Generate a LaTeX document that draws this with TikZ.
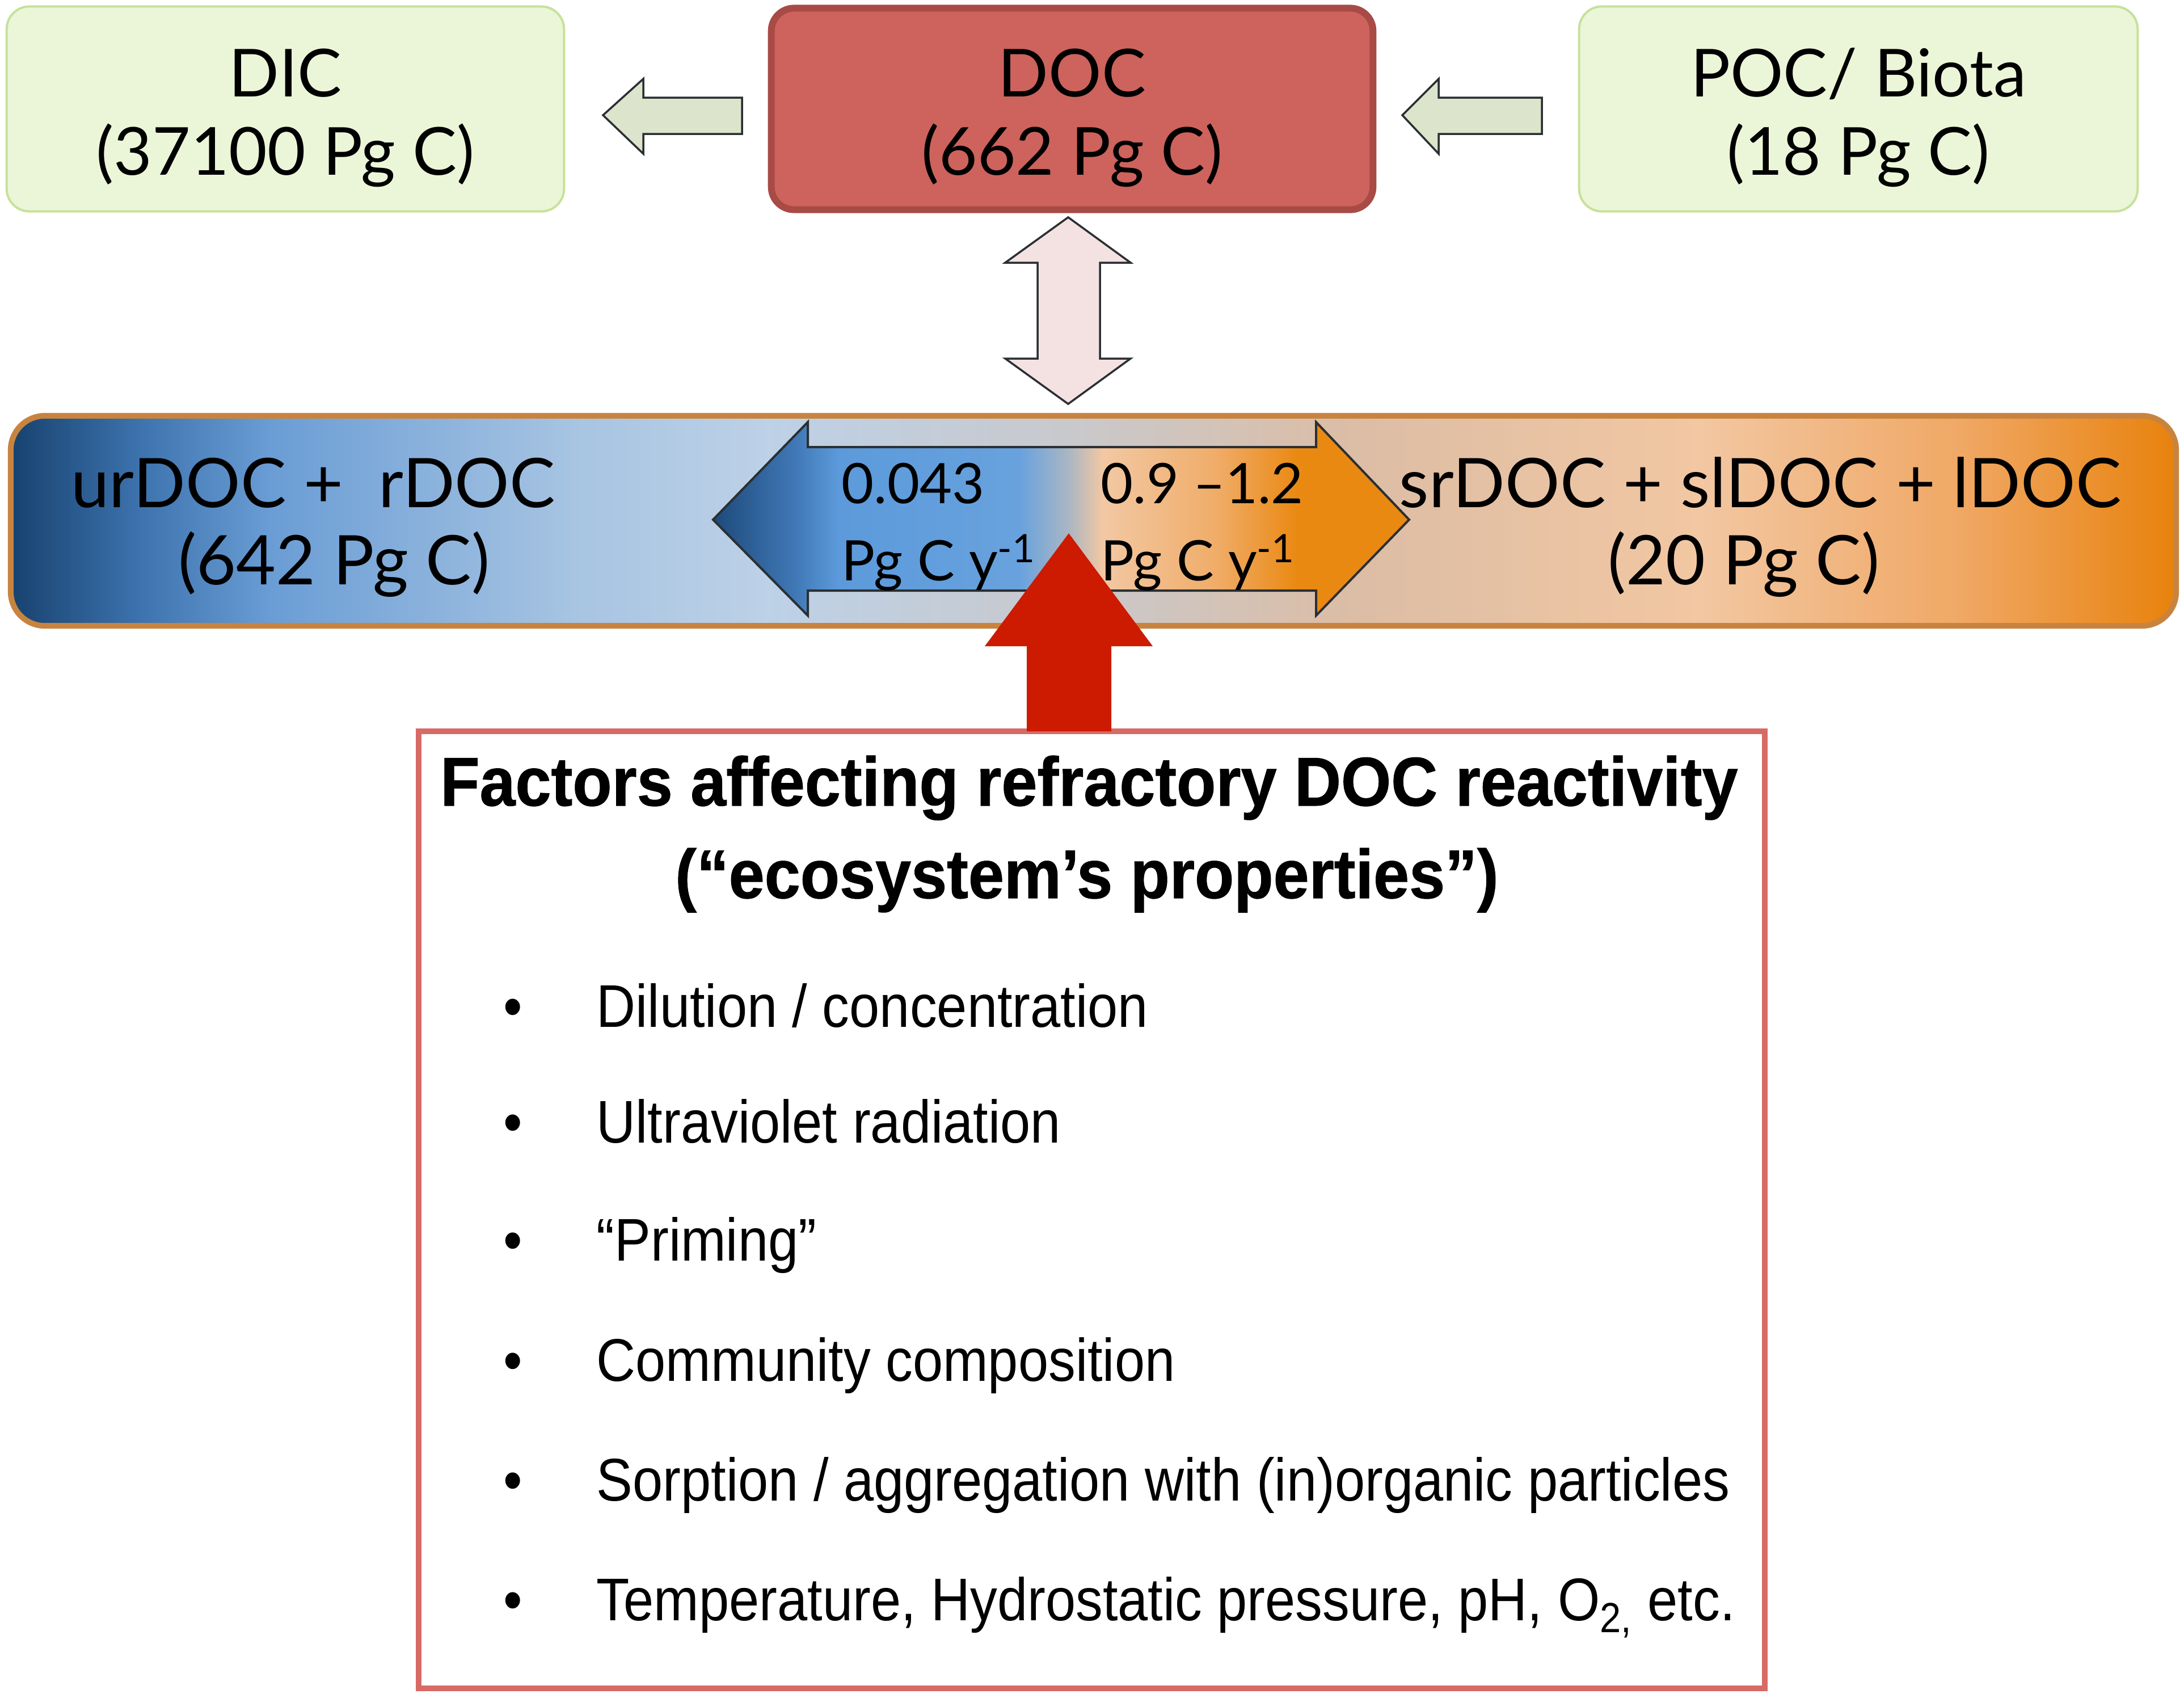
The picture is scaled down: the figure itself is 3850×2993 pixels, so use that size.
\documentclass[tikz,border=0pt]{standalone}
\usepackage{fontspec}
\setmainfont{Lato}
\newfontfamily\boldcond[FakeStretch=0.932,FakeBold=0.8]{Liberation Sans Bold}
\newfontfamily\regcond[FakeStretch=0.9]{Liberation Sans}
\usetikzlibrary{calc}
\definecolor{gfill}{HTML}{EBF6D8}
\definecolor{gline}{HTML}{C6E29A}
\definecolor{docfill}{HTML}{CD635C}
\definecolor{docline}{HTML}{A84A45}
\definecolor{arrline}{HTML}{2B2F33}
\definecolor{smallarr}{HTML}{DCE5CC}
\definecolor{vertarr}{HTML}{F4E2E2}
\definecolor{bandline}{HTML}{C8843F}
\definecolor{redarr}{HTML}{CC1B00}
\definecolor{factline}{HTML}{D86A66}
% band colours
\definecolor{b0}{HTML}{17426F}
\definecolor{b1}{HTML}{3D73AE}
\definecolor{b2}{HTML}{6A9DD5}
\definecolor{b3}{HTML}{A7C4E2}
\definecolor{b4}{HTML}{BDD1E7}
\definecolor{b5}{HTML}{C9C9CC}
\definecolor{b6}{HTML}{DCBDA5}
\definecolor{b7}{HTML}{F2C7A2}
\definecolor{b8}{HTML}{F0A865}
\definecolor{b9}{HTML}{E8820C}
% arrow colours
\definecolor{a0}{HTML}{1D4A7A}
\definecolor{a1}{HTML}{3F77B5}
\definecolor{a2}{HTML}{5C9ADB}
\definecolor{a3}{HTML}{68A2DE}
\definecolor{a4}{HTML}{A9B6C4}
\definecolor{a5}{HTML}{F2C8A3}
\definecolor{a6}{HTML}{F0AD6A}
\definecolor{a7}{HTML}{EA8912}
% band spans x 20..3835 -> 25bp..75bp
\pgfdeclarehorizontalshading{bandshade}{100bp}{color(0bp)=(b0); color(25bp)=(b0);
 color(28bp)=(b1); color(31bp)=(b2); color(38bp)=(b3); color(42.5bp)=(b4);
 color(49.5bp)=(b5); color(56bp)=(b6); color(64bp)=(b7); color(70bp)=(b8);
 color(75bp)=(b9); color(100bp)=(b9)}
% arrow spans x 1257..2484 -> 25bp..75bp
\pgfdeclarehorizontalshading{arrshade}{100bp}{color(0bp)=(a0); color(25bp)=(a0);
 color(30.8bp)=(a1); color(34bp)=(a2); color(47bp)=(a3); color(50.5bp)=(a4);
 color(53bp)=(a5); color(61bp)=(a6); color(67bp)=(a7); color(75bp)=(a7); color(100bp)=(a7)}
\begin{document}
\begin{tikzpicture}[x=0.01cm,y=-0.01cm,
  greenbox/.style={draw=gline, fill=gfill, line width=0.04cm, rounded corners=0.4cm, inner sep=0pt},
  docbox/.style={draw=docline, fill=docfill, line width=0.12cm, rounded corners=0.4cm, inner sep=0pt},
  boxtext/.style={anchor=base, inner sep=0pt, font=\fontsize{33.2}{38}\selectfont},
  bandtext/.style={anchor=base, inner sep=0pt, font=\fontsize{34.3}{38}\selectfont},
  ratetext/.style={anchor=base west, inner sep=0pt, font=\fontsize{28}{32}\selectfont},
  smallarrow/.style={draw=arrline, fill=smallarr, line width=0.035cm, line join=miter},
  titletext/.style={anchor=base, inner sep=0pt, font=\boldcond\fontsize{34.6}{40}\selectfont},
  itemtext/.style={anchor=base west, inner sep=0pt, font=\regcond\fontsize{30.2}{36}\selectfont},
  bullettext/.style={anchor=base, inner sep=0pt, font=\regcond\fontsize{30.2}{36}\selectfont}]
\useasboundingbox[fill=white] (0,0) rectangle (3850,2993);

% top boxes
\node[greenbox, minimum width=9.82cm, minimum height=3.61cm] (dic) at (503,192) {};
\node[docbox, minimum width=10.6cm, minimum height=3.55cm] (doc) at (1890,192) {};
\node[greenbox, minimum width=9.84cm, minimum height=3.61cm] (poc) at (3276,192) {};
\node[boxtext] (dic1) at (503,170) {DIC};
\node[boxtext] (dic2) at (503,308) {(37100 Pg C)};
\node[boxtext] (doc1) at (1890,170) {DOC};
\node[boxtext] (doc2) at (1890,308) {(662 Pg C)};
\node[boxtext] (poc1) at (3276,170) {POC/ Biota};
\node[boxtext] (poc2) at (3276,308) {(18 Pg C)};

% small arrows
\coordinate (la) at (1063,203);
\draw[smallarrow] (la) -- (1134,139) -- (1134,172) -- (1308,172) -- (1308,236) -- (1134,236) -- (1134,271) -- cycle;
\coordinate (ra) at (2472,203);
\draw[smallarrow] (ra) -- (2536,139) -- (2536,172) -- (2718,172) -- (2718,236) -- (2536,236) -- (2536,271) -- cycle;

% vertical double arrow
\coordinate (vt) at (1883,383);
\coordinate (vb) at (1883,712);
\draw[draw=arrline, fill=vertarr, line width=0.035cm] (vt) -- (1993,463) -- (1939,463) -- (1939,632) -- (1993,632) -- (vb) -- (1772,632) -- (1829,632) -- (1829,463) -- (1772,463) -- cycle;

% band
\node[draw=bandline, line width=0.1cm, rounded corners=0.6cm, shading=bandshade, minimum width=38.15cm, minimum height=3.7cm, inner sep=0pt] (band) at (1927.5,918) {};

% double arrow in band
\shade[shading=arrshade, draw=arrline, line width=0.04cm, line join=miter]
 (1257,916) -- (1424,744) -- (1424,788) -- (2320,788) -- (2320,744) -- (2484,916)
 -- (2320,1085) -- (2320,1041) -- (1424,1041) -- (1424,1085) -- cycle;

\node[bandtext] (ur1) at (552,894) {urDOC +\ \ rDOC};
\node[bandtext] (ur2) at (589,1030) {(642 Pg C)};
\node[bandtext] (sr1) at (3103,894) {srDOC + slDOC + lDOC};
\node[bandtext] (sr2) at (3074,1030) {(20 Pg C)};
\node[ratetext] (r1a) at (1483,887) {0.043};
\node[ratetext] (r1b) at (1483,1023) {Pg C y\textsuperscript{-1}};
\node[ratetext] (r2a) at (1940,887) {0.9 –1.2};
\node[ratetext] (r2b) at (1940,1023) {Pg C y\textsuperscript{-1}};

% factors box
\node[draw=factline, fill=white, line width=0.1cm, minimum width=23.71cm, minimum height=16.86cm, inner sep=0pt] (fact) at (1924.5,2132) {};

% red arrow
\fill[redarr] (1810,1289) -- (1810,1139) -- (1736,1139) -- (1884,940) -- (2032,1139) -- (1959,1139) -- (1959,1289) -- cycle;

\node[titletext] (t1) at (1920,1420) {Factors affecting refractory DOC reactivity};
\node[titletext] (t2) at (1916,1583) {(“ecosystem’s properties”)};

\foreach \yy/\txt [count=\i] in {1810/{Dilution / concentration},2014/{Ultraviolet radiation},2222/{“Priming”},2434/{Community composition},2645/{Sorption / aggregation with (in)organic particles},2856/{Temperature, Hydrostatic pressure, pH, O\textsubscript{2,} etc.}}{
  \node[bullettext] (b\i) at (904,\yy) {•};
  \node[itemtext] (it\i) at (1051,\yy) {\txt};
}
\end{tikzpicture}
\end{document}
